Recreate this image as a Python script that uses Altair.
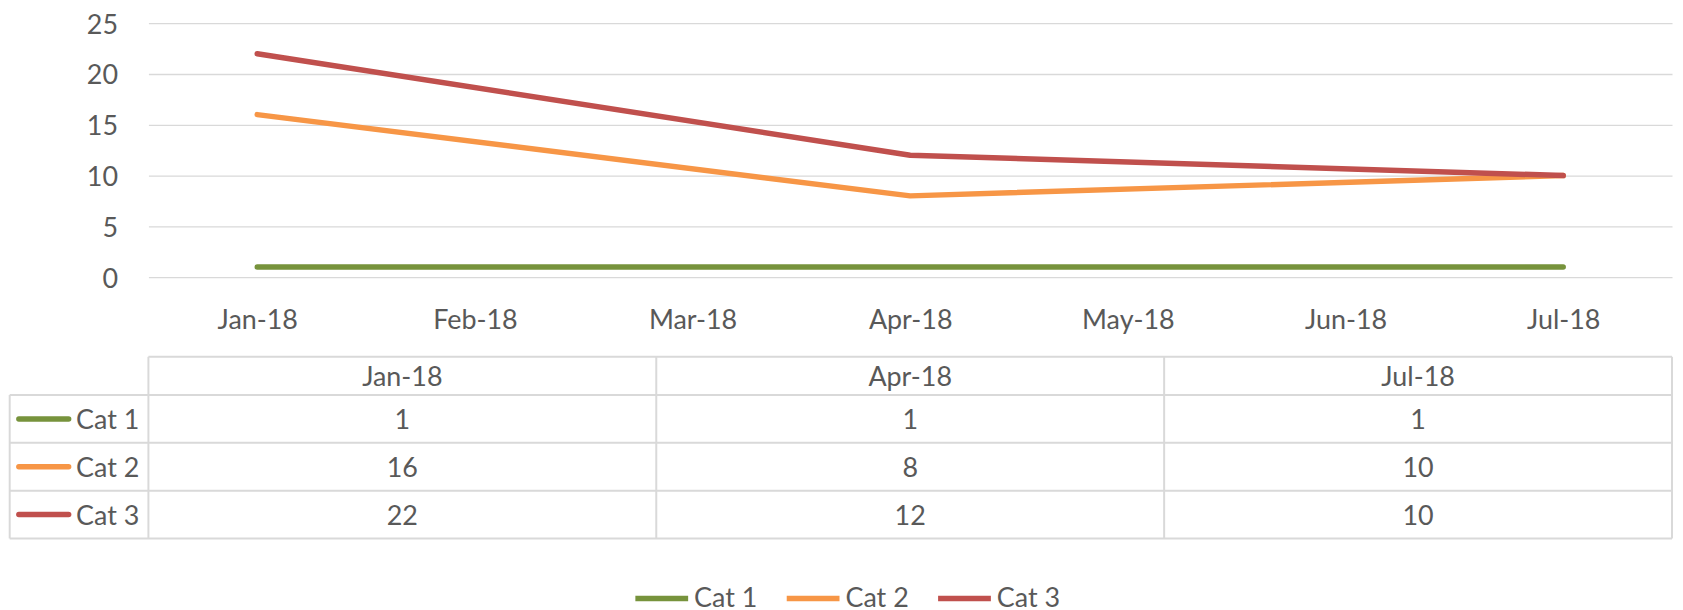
import altair as alt
import pandas as pd

# ---------------- data ----------------
months = ["Jan-18", "Feb-18", "Mar-18", "Apr-18", "May-18", "Jun-18", "Jul-18"]
table_months = ["Jan-18", "Apr-18", "Jul-18"]
series = ["Cat 1", "Cat 2", "Cat 3"]
cat1 = [1, 1, 1]
cat2 = [16, 8, 10]
cat3 = [22, 12, 10]
colors = ["#77933C", "#F79646", "#C0504D"]
y_ticks = [0, 5, 10, 15, 20, 25]

series_values = {"Cat 1": cat1, "Cat 2": cat2, "Cat 3": cat3}

# ---------------- style / layout constants ----------------
FONT = "Lato"
TEXT = "#595959"
GRID = "#D9D9D9"
FS = 27
W = 1530
H = 255
N_COLS = len(table_months)
N_ROWS = len(series)
COL_W = W / N_COLS
HEADER_H = 38.4
ROW_H = 48.0
BODY_TOP = 373.4          # px below plot top where the first data row starts
LABEL_COL_W = 139.3       # width of the row-header column (left of plot)
KEY_X1, KEY_X2 = -130.1, -80.1
LABEL_TEXT_X = -72.6
LINE_W = 5.5

def tx(px):
    return px / COL_W

header_r = -HEADER_H / ROW_H

# ---------------- tables ----------------
line_rows = []
for s in series:
    for m, v in zip(table_months, series_values[s]):
        line_rows.append({"series": s, "month": m, "value": v})
line_df = pd.DataFrame(line_rows)

cell_rows = []
for j, s in enumerate(series):
    for i, v in enumerate(series_values[s]):
        cell_rows.append({"cx": i + 0.5, "cy": j + 0.5, "label": str(v)})
for i, m in enumerate(table_months):
    cell_rows.append({"cx": i + 0.5, "cy": header_r / 2, "label": m})
cell_df = pd.DataFrame(cell_rows)

rowlab_df = pd.DataFrame({
    "cx": [tx(LABEL_TEXT_X)] * N_ROWS,
    "cy": [j + 0.5 for j in range(N_ROWS)],
    "label": series,
})

key_df = pd.DataFrame({
    "x1": [tx(KEY_X1)] * N_ROWS,
    "x2": [tx(KEY_X2)] * N_ROWS,
    "cy": [j + 0.5 for j in range(N_ROWS)],
    "key": series,
})

left = tx(-LABEL_COL_W)
h_rows = [{"x1": 0, "x2": N_COLS, "y1": header_r, "y2": header_r}]
for j in range(N_ROWS + 1):
    h_rows.append({"x1": left, "x2": N_COLS, "y1": j, "y2": j})
v_rows = [{"x1": left, "x2": left, "y1": 0, "y2": N_ROWS}]
for i in range(N_COLS + 1):
    v_rows.append({"x1": i, "x2": i, "y1": header_r, "y2": N_ROWS})
grid_df = pd.DataFrame(h_rows + v_rows)

# ---------------- scales ----------------
tab_x = alt.Scale(domain=[0, N_COLS], range=[0, W], nice=False, zero=False)
tab_y = alt.Scale(domain=[0, N_ROWS], range=[BODY_TOP, BODY_TOP + N_ROWS * ROW_H],
                  nice=False, zero=False)

# ---------------- line chart ----------------
lines = alt.Chart(line_df).mark_line(strokeWidth=LINE_W, strokeCap="round", strokeJoin="round").encode(
    x=alt.X("month:O", sort=months,
            scale=alt.Scale(type="point", domain=months, padding=0.5),
            axis=alt.Axis(title=None, labelAngle=0, ticks=False, domain=False, grid=False,
                          labelFont=FONT, labelFontSize=FS, labelColor=TEXT, labelPadding=31)),
    y=alt.Y("value:Q", scale=alt.Scale(domain=[0, 25], nice=False),
            axis=alt.Axis(title=None, values=y_ticks, ticks=False, domain=False,
                          grid=True, gridColor=GRID, gridWidth=1.3,
                          labelFont=FONT, labelFontSize=FS, labelColor=TEXT,
                          labelPadding=31, labelOffset=2)),
    color=alt.Color("series:N", scale=alt.Scale(domain=series, range=colors),
                    legend=alt.Legend(title=None, orient="none", direction="horizontal",
                                      legendX=486, legendY=548,
                                      symbolType="stroke", symbolSize=2809,
                                      symbolStrokeWidth=LINE_W,
                                      labelFont=FONT, labelFontSize=FS, labelColor=TEXT,
                                      labelOffset=3, columnPadding=18)),
    order=alt.Order("month_idx:Q"),
).transform_calculate(
    month_idx="indexof(" + str(months) + ", datum.month)"
)

# ---------------- data table ----------------
grid_rules = alt.Chart(grid_df).mark_rule(color=GRID, strokeWidth=2).encode(
    x=alt.X("x1:Q", scale=tab_x, axis=None),
    x2="x2:Q",
    y=alt.Y("y1:Q", scale=tab_y, axis=None),
    y2="y2:Q",
)

cells = alt.Chart(cell_df).mark_text(font=FONT, fontSize=FS, color=TEXT,
                                     align="center", baseline="middle", dy=2).encode(
    x=alt.X("cx:Q", scale=tab_x, axis=None),
    y=alt.Y("cy:Q", scale=tab_y, axis=None),
    text="label:N",
)

rowlabs = alt.Chart(rowlab_df).mark_text(font=FONT, fontSize=FS, color=TEXT,
                                         align="left", baseline="middle", dy=2).encode(
    x=alt.X("cx:Q", scale=tab_x, axis=None),
    y=alt.Y("cy:Q", scale=tab_y, axis=None),
    text="label:N",
)

keys = alt.Chart(key_df).mark_rule(strokeWidth=LINE_W, strokeCap="round").encode(
    x=alt.X("x1:Q", scale=tab_x, axis=None),
    x2="x2:Q",
    y=alt.Y("cy:Q", scale=tab_y, axis=None),
    color=alt.Color("key:N", scale=alt.Scale(domain=series, range=colors), legend=None),
)

table = alt.layer(grid_rules, keys, cells, rowlabs).resolve_scale(color="independent")

chart = alt.layer(lines, table).resolve_scale(
    x="independent", y="independent", color="independent"
).properties(
    width=W, height=H,
    padding={"left": 0, "top": 2, "right": 2, "bottom": 0},
    background="white",
).configure_view(stroke=None)

chart.save("out.html", embed_options={"renderer": "svg", "actions": False})
